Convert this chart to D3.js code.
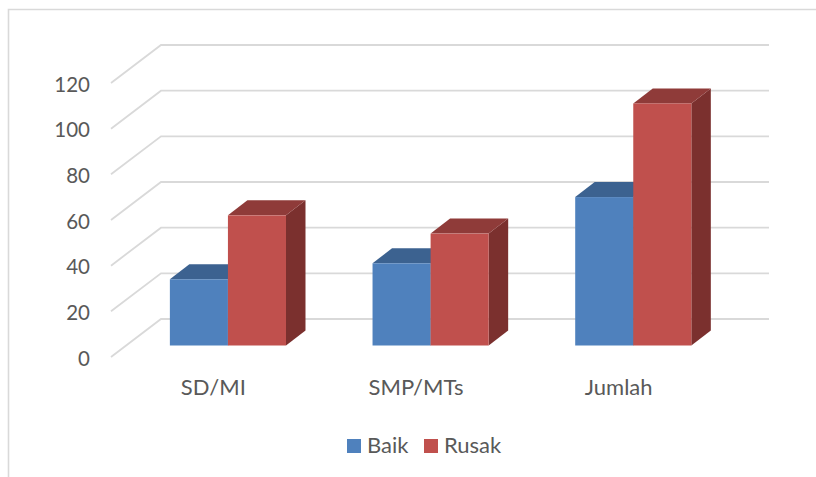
<!DOCTYPE html>
<html>
<head>
<meta charset="utf-8">
<script src="https://cdn.jsdelivr.net/npm/d3@7"></script>
<style>
    html, body { margin: 0; padding: 0; background: #fff; overflow: hidden; }
    text, .tick text { font-family: Lato, "Open Sans", sans-serif; font-size: 22px; fill: #595959; }
    .y-axis .tick text { font-size: 20.5px; }
</style>
</head>
<body>
<div id="chart"></div>
<script>
const categories = ['SD/MI', 'SMP/MTs', 'Jumlah'];
const seriesNames = ['Baik', 'Rusak'];
const baik = [29, 36, 65];
const rusak = [57, 49, 106];
const yTicks = [0, 20, 40, 60, 80, 100, 120];

const width = 816, height = 477;

// the fake 3d: how far the back wall and the bars sit behind the front plane
const wall = {dx: 50, dy: -38};
const barPlane = {dx: 15.6, dy: -11.5};
const barDepth = {dx: 19.5, dy: -15};

const colors = {
    Baik: {front: '#4f81bd', top: '#3c6290', side: '#32527a'},
    Rusak: {front: '#c0504d', top: '#8f3b39', side: '#7b302e'}
};

const svg = d3.select('#chart').append('svg')
    .attr('width', width)
    .attr('height', height);

// outer frame, runs off the right and bottom of the picture
svg.append('path')
    .attr('d', `M8.5,${height} V9.5 H${width}`)
    .attr('fill', 'none')
    .attr('stroke', '#d9d9d9')
    .attr('stroke-width', 1.6);

const frontLeft = 111;
const plotWidth = 608;

const xScale = d3.scaleBand()
    .domain(categories)
    .range([frontLeft, frontLeft + plotWidth])
    .paddingInner(0.427)
    .paddingOuter(0.2135);

const xInner = d3.scaleBand()
    .domain(seriesNames)
    .range([0, xScale.bandwidth()]);

const yScale = d3.scaleLinear()
    .domain([0, 120])
    .range([357, 83]);

// gridlines: side wall then back wall
const grid = svg.append('g').attr('class', 'grid');
grid.selectAll('path')
    .data(yTicks)
    .join('path')
    .attr('d', d => {
        const y = yScale(d);
        return `M${frontLeft},${y} L${frontLeft + wall.dx},${y + wall.dy} H${frontLeft + wall.dx + plotWidth}`;
    })
    .attr('fill', 'none')
    .attr('stroke', '#d9d9d9')
    .attr('stroke-width', 1.8);

// bars, blue first so red covers its side face
const rows = [];
categories.forEach((c, i) => {
    rows.push({category: c, series: 'Baik', value: baik[i]});
    rows.push({category: c, series: 'Rusak', value: rusak[i]});
});

const bars = svg.selectAll('.bar')
    .data(rows)
    .join('g')
    .attr('class', 'bar')
    .attr('transform', `translate(${barPlane.dx},${barPlane.dy})`);

bars.each(function(d) {
    const g = d3.select(this);
    const x0 = xScale(d.category) + xInner(d.series);
    const x1 = x0 + xInner.bandwidth();
    const y0 = yScale(0);
    const y1 = yScale(d.value);
    const c = colors[d.series];

    g.append('path')
        .attr('d', `M${x1},${y1} L${x1 + barDepth.dx},${y1 + barDepth.dy} V${y0 + barDepth.dy} L${x1},${y0} Z`)
        .attr('fill', c.side);
    g.append('path')
        .attr('d', `M${x0},${y1} L${x0 + barDepth.dx},${y1 + barDepth.dy} H${x1 + barDepth.dx} L${x1},${y1} Z`)
        .attr('fill', c.top);
    g.append('rect')
        .attr('x', x0)
        .attr('y', y1)
        .attr('width', x1 - x0)
        .attr('height', y0 - y1)
        .attr('fill', c.front);
});

const yAxis = d3.axisLeft(yScale).tickValues(yTicks).tickSize(0).tickPadding(0);
svg.append('g')
    .attr('class', 'axis y-axis')
    .attr('transform', 'translate(90,1.5)')
    .call(yAxis)
    .call(g => g.select('.domain').remove());

const xAxis = d3.axisBottom(xScale).tickSize(0).tickPadding(0);
svg.append('g')
    .attr('class', 'axis x-axis')
    .attr('transform', 'translate(1,379.5)')
    .call(xAxis)
    .call(g => g.select('.domain').remove());

// legend
const legendX = d3.scaleOrdinal().domain(seriesNames).range([347, 424]);
const legend = svg.selectAll('.legend')
    .data(seriesNames)
    .join('g')
    .attr('class', 'legend')
    .attr('transform', d => `translate(${legendX(d)},439)`);
legend.append('rect')
    .attr('width', 14)
    .attr('height', 14)
    .attr('fill', d => colors[d].front);
legend.append('text')
    .attr('x', 20)
    .attr('y', 14)
    .text(d => d);
</script>
</body>
</html>
